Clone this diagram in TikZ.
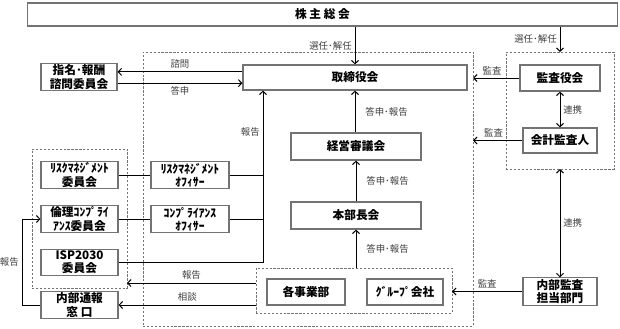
\documentclass[tikz,border=0pt]{standalone}
\usepackage{fontspec}
\setmainfont{Noto Sans CJK JP}
\usetikzlibrary{arrows.meta}

\begin{document}
\begin{tikzpicture}[
    x=0.025cm, y=-0.025cm,
    block/.style={
        draw=black!55,
        line width=0.8pt,
        minimum width=1.925cm,
        minimum height=0.65cm,
        inner sep=1pt,
        align=center,
        font=\fontsize{8.3}{9.4}\selectfont\bfseries
    },
    grp/.style={
        draw=black!55,
        dash pattern=on 1.6pt off 1.2pt,
        line width=0.5pt,
        inner sep=0pt,
        outer sep=0pt
    },
    arrow/.style={-{Straight Barb[length=2.4pt,width=5pt]}, line width=0.7pt},
    both/.style={{Straight Barb[length=2.4pt,width=5pt]}-{Straight Barb[length=2.4pt,width=5pt]}, line width=0.7pt},
    link/.style={line width=0.7pt},
    lbl/.style={font=\fontsize{6.7}{7.5}\selectfont, text=black!75, inner sep=2pt}
]
\useasboundingbox (0,0) rectangle (620,329);

% dashed frames
\node[grp, minimum width=8.25cm, minimum height=6.85cm] (mainbox) at (308,189) {};
\node[grp, minimum width=2.7cm, minimum height=2.925cm] (rightbox) at (560,110.5) {};
\node[grp, minimum width=4.9cm, minimum height=1.125cm] (innerbox) at (354,290.5) {};
\node[grp, minimum width=2.375cm, minimum height=3.475cm] (leftbox) at (79.5,218.5) {};

% top
\node[block, minimum width=14.725cm, minimum height=0.575cm] (agm) at (322.5,14.5) {株 主 総 会};

% centre column
\node[block, minimum width=5.6cm, minimum height=0.625cm] (board) at (355,77.5) {取締役会};
\node[block, minimum width=3.25cm, minimum height=0.675cm] (keiei) at (356,146.5) {経営審議会};
\node[block, minimum width=3.25cm, minimum height=0.675cm] (honbu) at (356,215.5) {本部長会};
\node[block, minimum width=1.95cm] (jigyo) at (306,292) {各事業部};
\node[block, minimum width=1.9cm] (group) at (405,292) {ｸﾞﾙｰﾌﾟ会社};

% right column
\node[block, minimum width=2.0cm] (audcom) at (560,78) {監査役会};
\node[block, minimum width=1.85cm, minimum height=0.625cm] (accaud) at (560,140.5) {会計監査人};
\node[block, minimum width=1.85cm, minimum height=0.625cm] (naibu) at (560,291.5) {内部監査\\担当部門};

% left column
\node[block, minimum width=1.9cm] (nomcom) at (79,77) {指名･報酬\\諮問委員会};
\node[block] (riskcom) at (79.5,175) {ﾘｽｸﾏﾈｼﾞﾒﾝﾄ\\委員会};
\node[block] (ethcom) at (79.5,219) {倫理ｺﾝﾌﾟﾗｲ\\ｱﾝｽ委員会};
\node[block] (ispcom) at (79.5,262.5) {ISP2030\\委員会};
\node[block, minimum height=0.6cm] (hotline) at (79.5,305) {内部通報\\窓 口};
\node[block, minimum width=1.95cm] (riskoff) at (190,175) {ﾘｽｸﾏﾈｼﾞﾒﾝﾄ\\ｵﾌｨｻｰ};
\node[block, minimum width=1.95cm] (compoff) at (190,219) {ｺﾝﾌﾟﾗｲｱﾝｽ\\ｵﾌｨｻｰ};

\coordinate (repx) at (263,0);
\coordinate (hotx) at (22,0);

% shareholders
\draw[arrow] (agm.south -| board.north) -- node[lbl, left] {選任･解任} (board.north);
\draw[arrow] (agm.south -| rightbox.north) -- node[lbl, left] {選任･解任} (rightbox.north);

% nomination committee
\draw[arrow] ([yshift=4pt]board.west) -- node[lbl, above] {諮問} ([yshift=4pt]board.west -| nomcom.east);
\draw[arrow] ([yshift=-4pt]board.west -| nomcom.east) -- node[lbl, below] {答申} ([yshift=-4pt]board.west);

% audit
\draw[arrow] (audcom.west) -- node[lbl, above, xshift=-3pt] {監査} (audcom.west -| mainbox.east);
\draw[arrow] (accaud.west) -- node[lbl, above, xshift=-3pt] {監査} (accaud.west -| mainbox.east);
\draw[both] (audcom.south) -- node[lbl, right] {連携} (accaud.north);
\draw[both] (rightbox.south) -- node[lbl, right] {連携} (naibu.north);
\draw[arrow] (naibu.west) -- node[lbl, above] {監査} (naibu.west -| innerbox.east);

% reporting line
\draw[arrow] (keiei.north -| board.south) -- node[lbl, right, xshift=5pt] {答申･報告} (board.south);
\draw[arrow] (honbu.north) -- node[lbl, right, xshift=5pt] {答申･報告} (keiei.south);
\draw[arrow] (innerbox.north -| honbu.south) -- node[lbl, right, xshift=5pt] {答申･報告} (honbu.south);

% committees and officers
\draw[link] (riskcom.east) -- (riskoff.west);
\draw[link] (ethcom.east) -- (compoff.west);
\draw[link] (riskoff.east) -- (riskoff.east -| repx);
\draw[link] (compoff.east) -- (compoff.east -| repx);
\draw[arrow] (ispcom.east) -- (ispcom.east -| repx) -- node[lbl, left, pos=0.76] {報告} (repx |- board.south);

% business units
\draw[arrow] ([yshift=5.3pt]innerbox.west) -- node[lbl, above] {報告} ([yshift=5.3pt]innerbox.west -| leftbox.east);
\draw[arrow] (innerbox.west |- hotline.east) -- node[lbl, above] {相談} (hotline.east);
\draw[arrow] (hotline.west) -- (hotline.west -| hotx) -- node[lbl, left] {報告} (hotx |- ethcom.west) -- (ethcom.west);

\end{tikzpicture}
\end{document}
